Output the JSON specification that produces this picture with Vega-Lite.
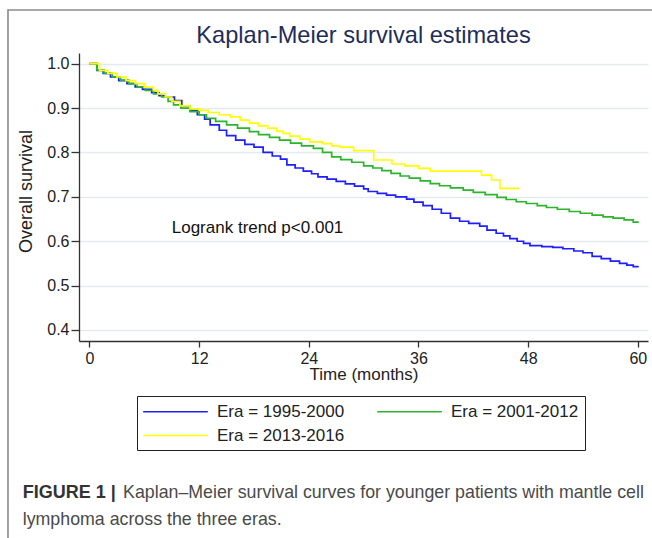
{
  "$schema": "https://vega.github.io/schema/vega-lite/v6.json",
  "width": 569,
  "height": 288,
  "autosize": {"type": "none"},
  "padding": {"left": 79, "top": 53, "right": 4, "bottom": 197},
  "background": "white",
  "title": {
    "text": "Kaplan-Meier survival estimates",
    "anchor": "middle",
    "font": "Liberation Sans",
    "fontSize": 23.6,
    "fontWeight": "normal",
    "color": "#1f2d5a",
    "baseline": "alphabetic",
    "offset": 0,
    "dy": 57
  },
  "config": {
    "view": {"stroke": null},
    "axis": {
      "labelFont": "Liberation Sans",
      "titleFont": "Liberation Sans",
      "labelFontSize": 16,
      "titleFontSize": 17,
      "titleFontWeight": "normal",
      "labelColor": "#222222",
      "titleColor": "#222222",
      "domainColor": "#333333",
      "domainWidth": 1.3,
      "tickColor": "#333333",
      "tickWidth": 1.3,
      "tickSize": 6
    }
  },
  "data": {
    "values": [
      {"era": "1995-2000", "t": 0, "s": 1.0},
      {"era": "1995-2000", "t": 0.8, "s": 0.985},
      {"era": "1995-2000", "t": 1.5, "s": 0.978},
      {"era": "1995-2000", "t": 2.3, "s": 0.970},
      {"era": "1995-2000", "t": 3.2, "s": 0.962},
      {"era": "1995-2000", "t": 4.1, "s": 0.955},
      {"era": "1995-2000", "t": 5.0, "s": 0.948},
      {"era": "1995-2000", "t": 5.8, "s": 0.942},
      {"era": "1995-2000", "t": 6.8, "s": 0.935},
      {"era": "1995-2000", "t": 7.6, "s": 0.928},
      {"era": "1995-2000", "t": 8.3, "s": 0.925},
      {"era": "1995-2000", "t": 9.3, "s": 0.917},
      {"era": "1995-2000", "t": 10.1, "s": 0.905},
      {"era": "1995-2000", "t": 11.0, "s": 0.895},
      {"era": "1995-2000", "t": 11.8, "s": 0.885},
      {"era": "1995-2000", "t": 12.6, "s": 0.875},
      {"era": "1995-2000", "t": 13.2, "s": 0.862},
      {"era": "1995-2000", "t": 14.2, "s": 0.850},
      {"era": "1995-2000", "t": 15.0, "s": 0.838},
      {"era": "1995-2000", "t": 16.0, "s": 0.828},
      {"era": "1995-2000", "t": 17.0, "s": 0.818},
      {"era": "1995-2000", "t": 18.0, "s": 0.812},
      {"era": "1995-2000", "t": 19.0, "s": 0.800},
      {"era": "1995-2000", "t": 20.0, "s": 0.792},
      {"era": "1995-2000", "t": 20.9, "s": 0.785},
      {"era": "1995-2000", "t": 21.6, "s": 0.772},
      {"era": "1995-2000", "t": 22.5, "s": 0.765},
      {"era": "1995-2000", "t": 23.4, "s": 0.758},
      {"era": "1995-2000", "t": 24.3, "s": 0.752},
      {"era": "1995-2000", "t": 25.0, "s": 0.745},
      {"era": "1995-2000", "t": 26.0, "s": 0.740},
      {"era": "1995-2000", "t": 27.0, "s": 0.735},
      {"era": "1995-2000", "t": 28.0, "s": 0.729},
      {"era": "1995-2000", "t": 29.0, "s": 0.724},
      {"era": "1995-2000", "t": 30.0, "s": 0.718},
      {"era": "1995-2000", "t": 30.5, "s": 0.712},
      {"era": "1995-2000", "t": 31.5, "s": 0.708},
      {"era": "1995-2000", "t": 32.5, "s": 0.704},
      {"era": "1995-2000", "t": 33.5, "s": 0.700},
      {"era": "1995-2000", "t": 34.7, "s": 0.695},
      {"era": "1995-2000", "t": 35.5, "s": 0.688},
      {"era": "1995-2000", "t": 36.5, "s": 0.680},
      {"era": "1995-2000", "t": 37.5, "s": 0.672},
      {"era": "1995-2000", "t": 38.5, "s": 0.663},
      {"era": "1995-2000", "t": 39.5, "s": 0.652},
      {"era": "1995-2000", "t": 40.5, "s": 0.645},
      {"era": "1995-2000", "t": 41.5, "s": 0.640},
      {"era": "1995-2000", "t": 42.7, "s": 0.634},
      {"era": "1995-2000", "t": 43.5, "s": 0.625},
      {"era": "1995-2000", "t": 44.5, "s": 0.618},
      {"era": "1995-2000", "t": 45.3, "s": 0.612},
      {"era": "1995-2000", "t": 46.0, "s": 0.606},
      {"era": "1995-2000", "t": 46.8, "s": 0.600},
      {"era": "1995-2000", "t": 47.5, "s": 0.595},
      {"era": "1995-2000", "t": 48.2, "s": 0.590},
      {"era": "1995-2000", "t": 49.5, "s": 0.588},
      {"era": "1995-2000", "t": 50.7, "s": 0.586},
      {"era": "1995-2000", "t": 51.8, "s": 0.583},
      {"era": "1995-2000", "t": 53.0, "s": 0.578},
      {"era": "1995-2000", "t": 54.0, "s": 0.574},
      {"era": "1995-2000", "t": 55.0, "s": 0.566},
      {"era": "1995-2000", "t": 56.0, "s": 0.561},
      {"era": "1995-2000", "t": 57.0, "s": 0.555},
      {"era": "1995-2000", "t": 58.0, "s": 0.550},
      {"era": "1995-2000", "t": 58.8, "s": 0.546},
      {"era": "1995-2000", "t": 59.5, "s": 0.543},
      {"era": "1995-2000", "t": 60.1, "s": 0.543},
      {"era": "2001-2012", "t": 0, "s": 1.0},
      {"era": "2001-2012", "t": 0.8, "s": 0.986},
      {"era": "2001-2012", "t": 1.6, "s": 0.978},
      {"era": "2001-2012", "t": 2.5, "s": 0.970},
      {"era": "2001-2012", "t": 3.4, "s": 0.963},
      {"era": "2001-2012", "t": 4.3, "s": 0.955},
      {"era": "2001-2012", "t": 5.2, "s": 0.948},
      {"era": "2001-2012", "t": 6.1, "s": 0.940},
      {"era": "2001-2012", "t": 7.0, "s": 0.932},
      {"era": "2001-2012", "t": 7.9, "s": 0.925},
      {"era": "2001-2012", "t": 8.6, "s": 0.915},
      {"era": "2001-2012", "t": 9.2, "s": 0.907},
      {"era": "2001-2012", "t": 10.0, "s": 0.900},
      {"era": "2001-2012", "t": 11.0, "s": 0.892},
      {"era": "2001-2012", "t": 12.0, "s": 0.885},
      {"era": "2001-2012", "t": 12.8, "s": 0.877},
      {"era": "2001-2012", "t": 13.8, "s": 0.870},
      {"era": "2001-2012", "t": 15.0, "s": 0.862},
      {"era": "2001-2012", "t": 16.2, "s": 0.855},
      {"era": "2001-2012", "t": 17.5, "s": 0.847},
      {"era": "2001-2012", "t": 18.5, "s": 0.840},
      {"era": "2001-2012", "t": 19.7, "s": 0.834},
      {"era": "2001-2012", "t": 20.8, "s": 0.828},
      {"era": "2001-2012", "t": 22.0, "s": 0.821},
      {"era": "2001-2012", "t": 23.2, "s": 0.815},
      {"era": "2001-2012", "t": 24.5, "s": 0.809},
      {"era": "2001-2012", "t": 25.5, "s": 0.800},
      {"era": "2001-2012", "t": 26.5, "s": 0.790},
      {"era": "2001-2012", "t": 27.5, "s": 0.784},
      {"era": "2001-2012", "t": 28.7, "s": 0.778},
      {"era": "2001-2012", "t": 30.0, "s": 0.770},
      {"era": "2001-2012", "t": 31.0, "s": 0.765},
      {"era": "2001-2012", "t": 32.0, "s": 0.759},
      {"era": "2001-2012", "t": 33.0, "s": 0.753},
      {"era": "2001-2012", "t": 34.0, "s": 0.747},
      {"era": "2001-2012", "t": 35.0, "s": 0.742},
      {"era": "2001-2012", "t": 36.2, "s": 0.736},
      {"era": "2001-2012", "t": 37.3, "s": 0.730},
      {"era": "2001-2012", "t": 38.3, "s": 0.725},
      {"era": "2001-2012", "t": 39.5, "s": 0.720},
      {"era": "2001-2012", "t": 40.9, "s": 0.715},
      {"era": "2001-2012", "t": 42.0, "s": 0.710},
      {"era": "2001-2012", "t": 43.3, "s": 0.705},
      {"era": "2001-2012", "t": 44.6, "s": 0.699},
      {"era": "2001-2012", "t": 45.6, "s": 0.694},
      {"era": "2001-2012", "t": 46.7, "s": 0.689},
      {"era": "2001-2012", "t": 47.8, "s": 0.685},
      {"era": "2001-2012", "t": 49.0, "s": 0.680},
      {"era": "2001-2012", "t": 50.0, "s": 0.676},
      {"era": "2001-2012", "t": 51.2, "s": 0.672},
      {"era": "2001-2012", "t": 52.5, "s": 0.667},
      {"era": "2001-2012", "t": 53.7, "s": 0.663},
      {"era": "2001-2012", "t": 55.0, "s": 0.659},
      {"era": "2001-2012", "t": 56.2, "s": 0.655},
      {"era": "2001-2012", "t": 57.3, "s": 0.652},
      {"era": "2001-2012", "t": 58.5, "s": 0.648},
      {"era": "2001-2012", "t": 59.5, "s": 0.643},
      {"era": "2001-2012", "t": 60.1, "s": 0.643},
      {"era": "2013-2016", "t": 0, "s": 1.0},
      {"era": "2013-2016", "t": 1.1, "s": 0.985},
      {"era": "2013-2016", "t": 2.0, "s": 0.978},
      {"era": "2013-2016", "t": 3.0, "s": 0.970},
      {"era": "2013-2016", "t": 4.0, "s": 0.962},
      {"era": "2013-2016", "t": 5.0, "s": 0.955},
      {"era": "2013-2016", "t": 6.0, "s": 0.947},
      {"era": "2013-2016", "t": 7.0, "s": 0.940},
      {"era": "2013-2016", "t": 7.5, "s": 0.932},
      {"era": "2013-2016", "t": 8.3, "s": 0.925},
      {"era": "2013-2016", "t": 9.0, "s": 0.915},
      {"era": "2013-2016", "t": 9.9, "s": 0.905},
      {"era": "2013-2016", "t": 11.0, "s": 0.898},
      {"era": "2013-2016", "t": 12.1, "s": 0.895},
      {"era": "2013-2016", "t": 13.0, "s": 0.890},
      {"era": "2013-2016", "t": 14.2, "s": 0.885},
      {"era": "2013-2016", "t": 15.4, "s": 0.880},
      {"era": "2013-2016", "t": 16.5, "s": 0.873},
      {"era": "2013-2016", "t": 17.5, "s": 0.866},
      {"era": "2013-2016", "t": 18.5, "s": 0.860},
      {"era": "2013-2016", "t": 19.5, "s": 0.855},
      {"era": "2013-2016", "t": 20.5, "s": 0.848},
      {"era": "2013-2016", "t": 21.2, "s": 0.843},
      {"era": "2013-2016", "t": 21.9, "s": 0.837},
      {"era": "2013-2016", "t": 23.0, "s": 0.830},
      {"era": "2013-2016", "t": 24.1, "s": 0.824},
      {"era": "2013-2016", "t": 25.5, "s": 0.820},
      {"era": "2013-2016", "t": 26.5, "s": 0.815},
      {"era": "2013-2016", "t": 27.4, "s": 0.812},
      {"era": "2013-2016", "t": 28.9, "s": 0.804},
      {"era": "2013-2016", "t": 31.1, "s": 0.783},
      {"era": "2013-2016", "t": 33.1, "s": 0.774},
      {"era": "2013-2016", "t": 34.5, "s": 0.770},
      {"era": "2013-2016", "t": 36.0, "s": 0.764},
      {"era": "2013-2016", "t": 37.3, "s": 0.758},
      {"era": "2013-2016", "t": 42.9, "s": 0.749},
      {"era": "2013-2016", "t": 44.0, "s": 0.738},
      {"era": "2013-2016", "t": 44.9, "s": 0.719},
      {"era": "2013-2016", "t": 47.0, "s": 0.719}
    ]
  },
  "layer": [
    {
      "data": {"values": [{}]},
      "mark": {"type": "rect", "filled": false, "stroke": "#8c8c8c", "strokeWidth": 1.6},
      "encoding": {
        "x": {"datum": -8.92, "type": "quantitative"},
        "x2": {"datum": 62.5},
        "y": {"datum": 1.121, "type": "quantitative"},
        "y2": {"datum": -0.085}
      }
    },
    {
      "mark": {"type": "line", "interpolate": "step-after", "strokeWidth": 1.7},
      "encoding": {
        "x": {
          "field": "t",
          "type": "quantitative",
          "scale": {"domain": [-1.149, 61.116], "nice": false, "zero": false},
          "axis": {
            "values": [0, 12, 24, 36, 48, 60],
            "title": "Time (months)",
            "grid": false,
            "labelPadding": 3,
            "titlePadding": 0
          }
        },
        "y": {
          "field": "s",
          "type": "quantitative",
          "scale": {"domain": [0.3752, 1.0241], "nice": false, "zero": false},
          "axis": {
            "values": [0.4, 0.5, 0.6, 0.7, 0.8, 0.9, 1.0],
            "format": ".1f",
            "title": "Overall survival",
            "titleFontSize": 18,
            "titleY": 138,
            "grid": true,
            "gridColor": "#e2ebf0",
            "gridWidth": 1.3,
            "tickSize": 8,
            "labelPadding": 2,
            "titlePadding": 11
          }
        },
        "color": {
          "field": "era",
          "type": "nominal",
          "scale": {
            "domain": ["1995-2000", "2001-2012", "2013-2016"],
            "range": ["#1e1eff", "#2db42d", "#ffff00"]
          },
          "legend": {
            "orient": "none",
            "legendX": 58,
            "legendY": 343,
            "direction": "horizontal",
            "title": null,
            "columns": 2,
            "symbolType": "M-3.8,0H3.8",
            "symbolSize": 289,
            "symbolStrokeWidth": 1.5,
            "symbolOffset": 23,
            "labelFont": "Liberation Sans",
            "labelFontSize": 17,
            "labelColor": "#222222",
            "labelOffset": 32,
            "labelLimit": 300,
            "labelExpr": "'Era = ' + datum.label",
            "columnPadding": 29,
            "rowPadding": 6,
            "padding": 6,
            "strokeColor": "#222222",
            "fillColor": "white"
          }
        }
      }
    },
    {
      "data": {"values": [{}]},
      "mark": {"type": "text", "text": "Logrank trend p<0.001", "align": "left", "baseline": "middle", "font": "Liberation Sans", "fontSize": 17, "color": "#111111"},
      "encoding": {
        "x": {"datum": 9.0, "type": "quantitative"},
        "y": {"datum": 0.629, "type": "quantitative"}
      }
    },
    {
      "data": {"values": [{}]},
      "mark": {"type": "text", "text": "FIGURE 1 |", "align": "left", "baseline": "middle", "font": "Liberation Sans", "fontSize": 18, "fontWeight": "bold", "color": "#333333"},
      "encoding": {
        "x": {"datum": -7.31, "type": "quantitative"},
        "y": {"datum": 0.0334, "type": "quantitative"}
      }
    },
    {
      "data": {"values": [{}]},
      "mark": {"type": "text", "text": "Kaplan–Meier survival curves for younger patients with mantle cell", "align": "left", "baseline": "middle", "font": "Liberation Sans", "fontSize": 17.8, "color": "#4a4a4a"},
      "encoding": {
        "x": {"datum": 3.67, "type": "quantitative"},
        "y": {"datum": 0.0334, "type": "quantitative"}
      }
    },
    {
      "data": {"values": [{}]},
      "mark": {"type": "text", "text": "lymphoma across the three eras.", "align": "left", "baseline": "middle", "font": "Liberation Sans", "fontSize": 17.8, "color": "#4a4a4a"},
      "encoding": {
        "x": {"datum": -7.31, "type": "quantitative"},
        "y": {"datum": -0.0282, "type": "quantitative"}
      }
    }
  ]
}
